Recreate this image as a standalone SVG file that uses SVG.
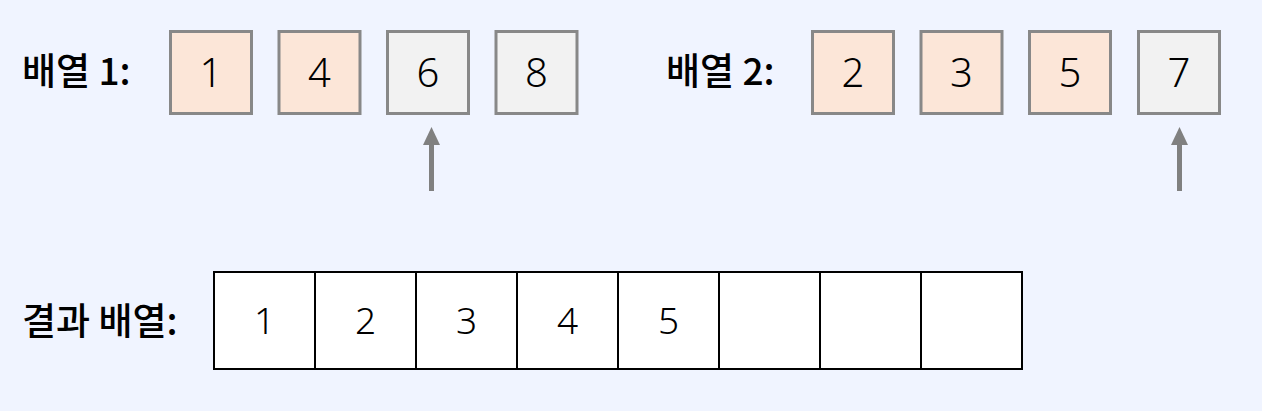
<svg xmlns="http://www.w3.org/2000/svg" width="1262" height="411" viewBox="0 0 1262 411">
  <style>
    .lbl { font-family: "Noto Sans CJK KR", "Noto Sans", sans-serif; font-weight: 500; font-size: 37px; fill: #000; }
    .num { font-family: "Noto Sans", "Liberation Sans", sans-serif; font-weight: 300; font-size: 40px; fill: #000; text-anchor: middle; }
    .rnum { font-family: "Noto Sans", "Liberation Sans", sans-serif; font-weight: 300; font-size: 37px; fill: #000; text-anchor: middle; }
    .done { fill: #FCE6D8; stroke: #888888; stroke-width: 3; }
    .rest { fill: #F2F2F2; stroke: #888888; stroke-width: 3; }
    .cell { fill: #FFFFFF; stroke: #000000; stroke-width: 2; }
    .arrow { stroke: #808080; stroke-width: 5; fill: none; }
    .head { fill: #808080; }
  </style>
  <rect x="0" y="0" width="1262" height="411" fill="#F0F4FF"/>

  <g id="label-array1"><text class="lbl" x="22" y="85">배열 1:</text></g>
  <g id="a1-1"><rect class="done" x="170.5" y="31.5" width="81" height="82"/><text class="num" x="211" y="87">1</text></g>
  <g id="a1-4"><rect class="done" x="279" y="31.5" width="81" height="82"/><text class="num" x="319.5" y="87">4</text></g>
  <g id="a1-6"><rect class="rest" x="387.5" y="31.5" width="81" height="82"/><text class="num" x="428" y="87">6</text></g>
  <g id="a1-8"><rect class="rest" x="496" y="31.5" width="81" height="82"/><text class="num" x="536.5" y="87">8</text></g>

  <g id="label-array2"><text class="lbl" x="666" y="85">배열 2:</text></g>
  <g id="a2-2"><rect class="done" x="812.5" y="31.5" width="81" height="82"/><text class="num" x="853" y="87">2</text></g>
  <g id="a2-3"><rect class="done" x="921" y="31.5" width="81" height="82"/><text class="num" x="961.5" y="87">3</text></g>
  <g id="a2-5"><rect class="done" x="1029.5" y="31.5" width="81" height="82"/><text class="num" x="1070" y="87">5</text></g>
  <g id="a2-7"><rect class="rest" x="1138.5" y="31.5" width="81" height="82"/><text class="num" x="1179" y="87">7</text></g>

  <g id="label-result"><text class="lbl" x="22" y="335">결과 배열:</text></g>
  <g id="result">
    <rect class="cell" x="214" y="272" width="101" height="97"/>
    <rect class="cell" x="315" y="272" width="101" height="97"/>
    <rect class="cell" x="416" y="272" width="101" height="97"/>
    <rect class="cell" x="517" y="272" width="101" height="97"/>
    <rect class="cell" x="618" y="272" width="101" height="97"/>
    <rect class="cell" x="719" y="272" width="101" height="97"/>
    <rect class="cell" x="820" y="272" width="101" height="97"/>
    <rect class="cell" x="921" y="272" width="101" height="97"/>
    <text class="rnum" x="264.5" y="334">1</text>
    <text class="rnum" x="365.5" y="334">2</text>
    <text class="rnum" x="466.5" y="334">3</text>
    <text class="rnum" x="567.5" y="334">4</text>
    <text class="rnum" x="668.5" y="334">5</text>
  </g>

  <g id="connectors">
    <line class="arrow" x1="431.5" y1="191" x2="431.5" y2="143"/>
    <polygon class="head" points="431.5,127 423,145 440,145"/>
    <line class="arrow" x1="1179.5" y1="191" x2="1179.5" y2="143"/>
    <polygon class="head" points="1179.5,127 1171,145 1188,145"/>
  </g>
</svg>
